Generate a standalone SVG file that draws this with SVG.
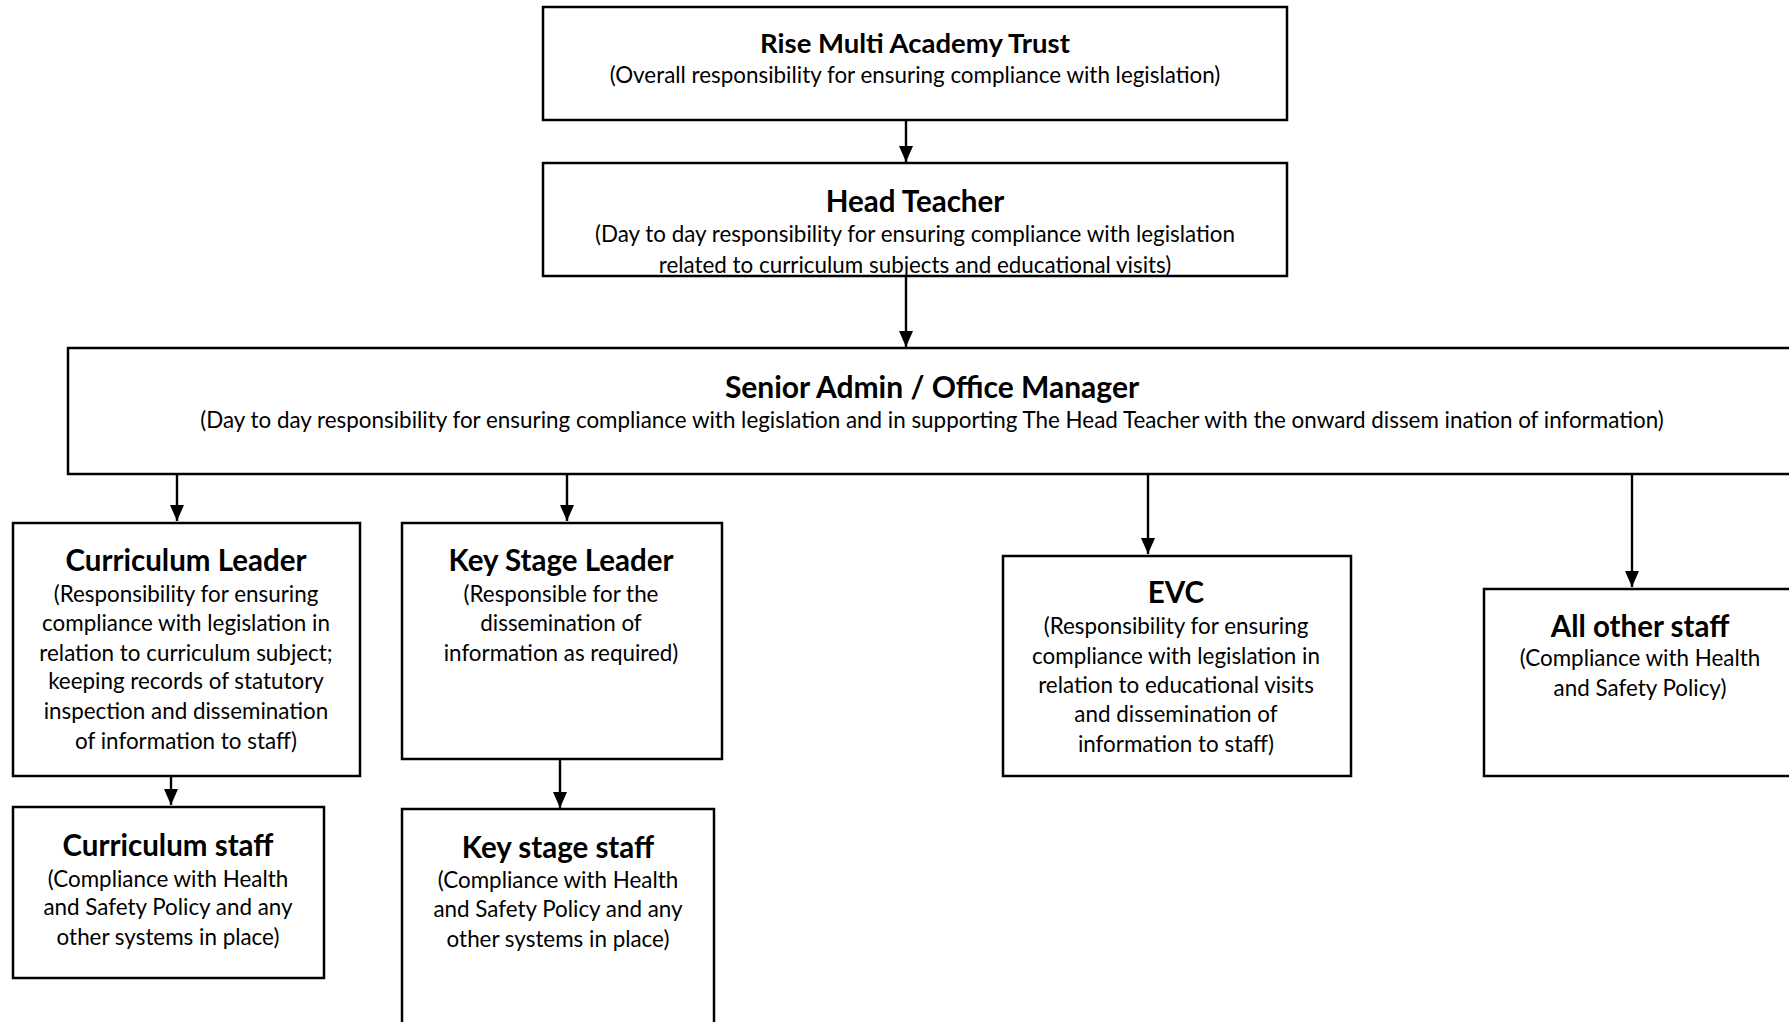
<svg xmlns="http://www.w3.org/2000/svg" width="1789" height="1022" viewBox="0 0 1789 1022">
<defs>
<style>
.box{fill:#fff;stroke:#000;stroke-width:2.5}
.t{font-family:Lato,"Open Sans","Liberation Sans",sans-serif;font-weight:bold;font-size:29.5px;text-anchor:middle;fill:#000}
.s{font-family:Lato,"Open Sans","Liberation Sans",sans-serif;font-size:22.4px;text-anchor:middle;fill:#000}
.c{stroke:#000;stroke-width:2.4;fill:none;marker-end:url(#ah)}
</style>
<marker id="ah" viewBox="0 0 16 14" refX="16" refY="7" markerWidth="16" markerHeight="14" markerUnits="userSpaceOnUse" orient="auto">
<path d="M0,0 L16,7 L0,14 Z" fill="#000"/>
</marker>
</defs>
<rect width="1789" height="1022" fill="#fff"/>
<g id="connectors">
<line class="c" x1="906" y1="120" x2="906" y2="162"/>
<line class="c" x1="906" y1="276" x2="906" y2="347"/>
<line class="c" x1="177" y1="474" x2="177" y2="521"/>
<line class="c" x1="567" y1="474" x2="567" y2="521"/>
<line class="c" x1="1148" y1="474" x2="1148" y2="554"/>
<line class="c" x1="1632" y1="474" x2="1632" y2="587"/>
<line class="c" x1="171" y1="776" x2="171" y2="805"/>
<line class="c" x1="560" y1="759" x2="560" y2="808"/>
</g>
<g id="rise">
<rect class="box" x="543" y="7" width="744" height="113"/>
<text class="t" x="915" y="53" style="font-size:27.5px">Rise Multi Academy Trust</text>
<text class="s" x="915" y="83">(Overall responsibility for ensuring compliance with legislation)</text>
</g>
<g id="head">
<rect class="box" x="543" y="163" width="744" height="113"/>
<text class="t" x="915" y="212">Head Teacher</text>
<text class="s" x="915" y="242">(Day to day responsibility for ensuring compliance with legislation</text>
<text class="s" x="915" y="273">related to curriculum subjects and educational visits)</text>
</g>
<g id="senior">
<rect class="box" x="68" y="348" width="1760" height="126"/>
<text class="t" x="932" y="398" style="font-size:30px">Senior Admin / Office Manager</text>
<text class="s" x="932" y="428">(Day to day responsibility for ensuring compliance with legislation and in supporting The Head Teacher with the onward dissem ination of information)</text>
</g>
<g id="curriculum-leader">
<rect class="box" x="13" y="523" width="347" height="253"/>
<text class="t" x="186" y="571">Curriculum Leader</text>
<text class="s" x="186" y="602">(Responsibility for ensuring</text>
<text class="s" x="186" y="631">compliance with legislation in</text>
<text class="s" x="186" y="661">relation to curriculum subject;</text>
<text class="s" x="186" y="689">keeping records of statutory</text>
<text class="s" x="186" y="719">inspection and dissemination</text>
<text class="s" x="186" y="749">of information to staff)</text>
</g>
<g id="key-stage-leader">
<rect class="box" x="402" y="523" width="320" height="236"/>
<text class="t" x="561" y="571">Key Stage Leader</text>
<text class="s" x="561" y="602">(Responsible for the</text>
<text class="s" x="561" y="631">dissemination of</text>
<text class="s" x="561" y="661">information as required)</text>
</g>
<g id="evc">
<rect class="box" x="1003" y="556" width="348" height="220"/>
<text class="t" x="1176" y="603">EVC</text>
<text class="s" x="1176" y="634">(Responsibility for ensuring</text>
<text class="s" x="1176" y="664">compliance with legislation in</text>
<text class="s" x="1176" y="693">relation to educational visits</text>
<text class="s" x="1176" y="722">and dissemination of</text>
<text class="s" x="1176" y="752">information to staff)</text>
</g>
<g id="all-other-staff">
<rect class="box" x="1484" y="589" width="340" height="187"/>
<text class="t" x="1640" y="637">All other staff</text>
<text class="s" x="1640" y="666">(Compliance with Health</text>
<text class="s" x="1640" y="696">and Safety Policy)</text>
</g>
<g id="curriculum-staff">
<rect class="box" x="13" y="807" width="311" height="171"/>
<text class="t" x="168" y="856">Curriculum staff</text>
<text class="s" x="168" y="887">(Compliance with Health</text>
<text class="s" x="168" y="915">and Safety Policy and any</text>
<text class="s" x="168" y="945">other systems in place)</text>
</g>
<g id="key-stage-staff">
<rect class="box" x="402" y="809" width="312" height="240"/>
<text class="t" x="558" y="858">Key stage staff</text>
<text class="s" x="558" y="888">(Compliance with Health</text>
<text class="s" x="558" y="917">and Safety Policy and any</text>
<text class="s" x="558" y="947">other systems in place)</text>
</g>
</svg>
